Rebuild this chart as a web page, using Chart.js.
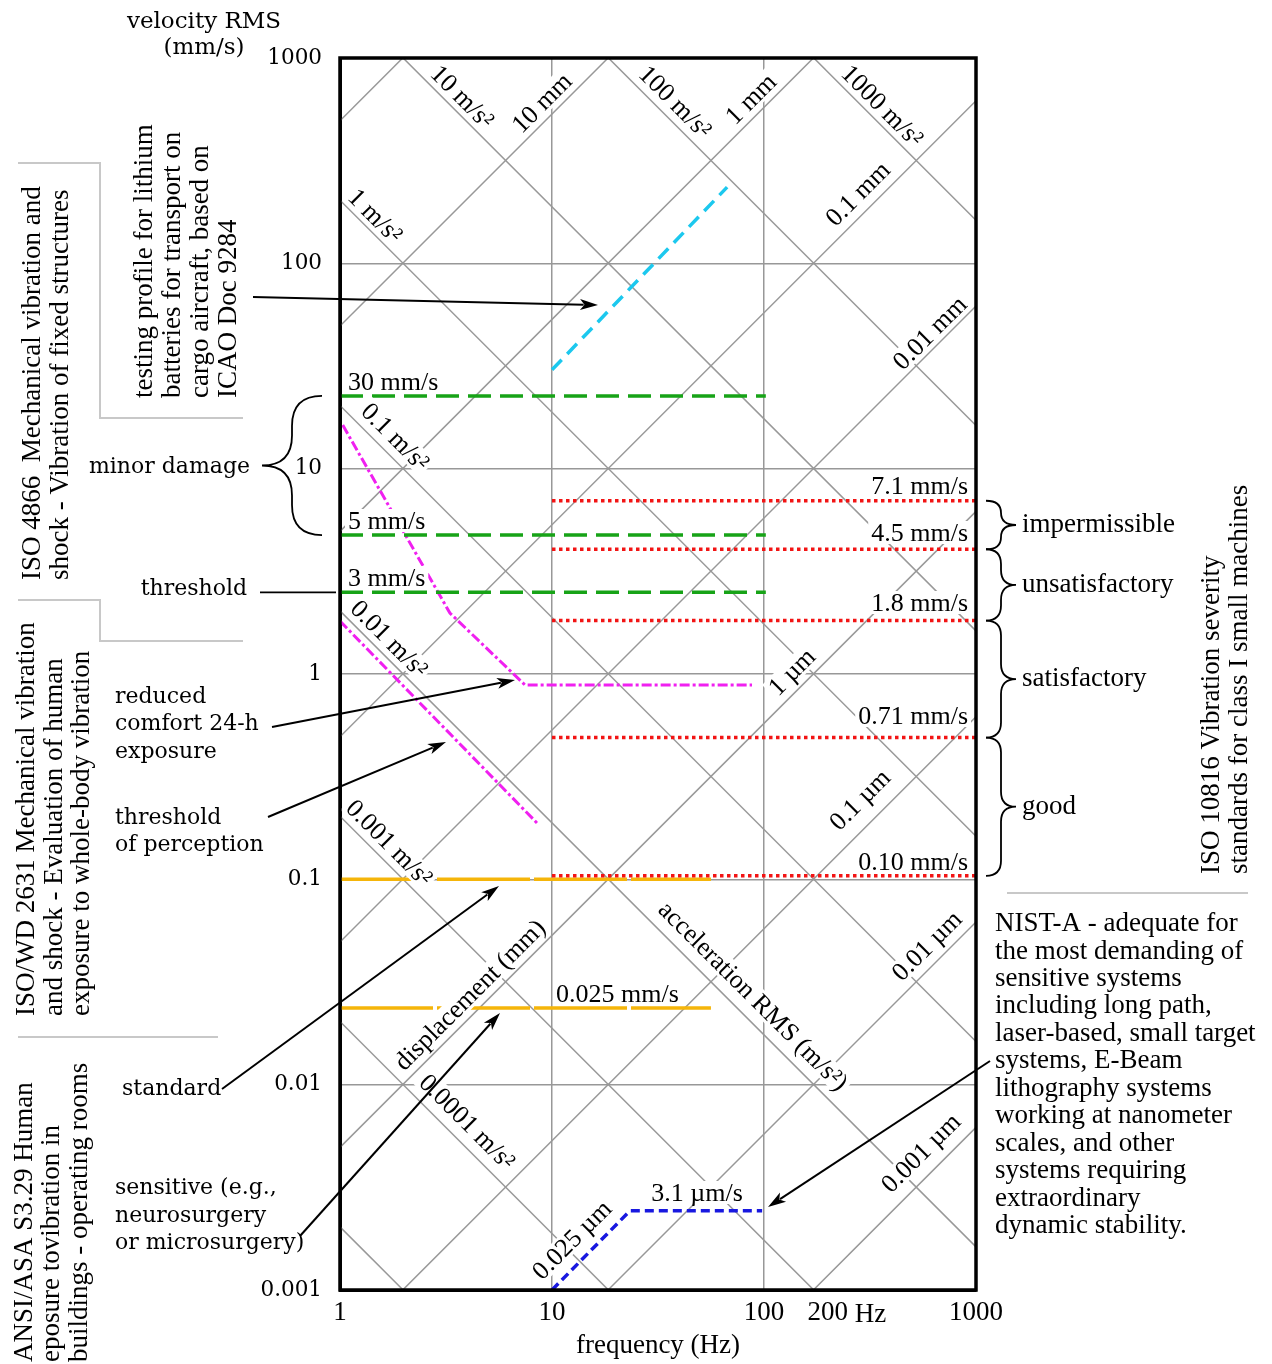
<!DOCTYPE html>
<html>
<head>
<meta charset="utf-8">
<title>Vibration criteria</title>
<script src="https://cdn.jsdelivr.net/npm/chart.js@4.4.1/dist/chart.umd.min.js"></script>
<style>
  body { margin: 0; background: #fff; }
  canvas { display: block; }
</style>
</head>
<body>
<canvas id="vibration-chart" width="1272" height="1364"></canvas>
<script>
const vibrationChart = document.getElementById("vibration-chart");

// axes
const freqTicks = [1, 10, 100, 200, 1000];
const velocityTicks = [0.001, 0.01, 0.1, 1, 10, 100, 1000];

// guide lines of the nomogram
const accelValues = [0.00001, 0.0001, 0.001, 0.01, 0.1, 1, 10, 100, 1000]; // m/s2
const dispValues = [100, 10, 1, 0.1, 0.01, 0.001, 0.0001, 0.00001, 0.000001]; // mm
// as drawn: velocity at 1 Hz of a unit line, and the slope of the lines
const accelAt1Hz = 203;
const dispAt1Hz = 4.95;
const guideSlope = 1.0325;

// ISO 4866 - fixed structures (30, 5, 3 mm/s)
const iso4866Levels = [22.6, 4.75, 2.5];
const iso4866Freq = [1, 102];

// ISO 10816 - class I machines (7.1, 4.5, 1.8, 0.71, 0.10 mm/s)
const iso10816Levels = [6.98, 4.05, 1.82, 0.49, 0.104];
const iso10816Freq = [10, 1000];

// ISO 2631 - whole body
const comfortFreq = [1.03, 3.3, 7.46, 87.8];
const comfortVel = [16.3, 1.98, 0.884, 0.884];
const perceptionFreq = [1, 8.5];
const perceptionVel = [1.81, 0.188];

// ANSI S3.29 - operating rooms
const ansiLevels = [0.1, 0.0236];
const ansiFreq = [1, 56.2];

// lithium batteries, ICAO Doc 9284
const lithiumFreq = [10, 67];
const lithiumVel = [30.3, 235];

// NIST-A
const nistFreq = [10, 23.3, 98];
const nistVel = [0.001, 0.00243, 0.00243];

const gridGray = "#989898";
const serif = "'Liberation Serif', 'Times New Roman', serif";
const wideSerif = "'DejaVu Serif', serif";

const pts = (xs, ys) => xs.map((x, i) => ({ x: x, y: ys[i] }));

function guide(v1) {
  return {
    label: "guide",
    data: [{ x: 1, y: v1 }, { x: 1000, y: v1 * Math.pow(1000, guideSlope) }],
    borderColor: gridGray,
    borderWidth: 1.5,
    pointRadius: 0,
    clip: 0,
    order: 6,
  };
}

function series(label, data, color, dash, width, order) {
  return {
    label: label,
    data: data,
    borderColor: color,
    borderDash: dash,
    borderWidth: width,
    pointRadius: 0,
    clip: 0,
    order: order,
  };
}

const datasets = [];
accelValues.forEach(a => {
  const g = guide(accelAt1Hz * a);
  g.data[1].y = accelAt1Hz * a * Math.pow(1000, -guideSlope);
  datasets.push(g);
});
dispValues.forEach(d => datasets.push(guide(dispAt1Hz * d)));

ansiLevels.forEach(v => {
  datasets.push(series("ANSI", pts(ansiFreq, [v, v]), "#f5b50a", [93, 4], 3.5, 5));
});
iso4866Levels.forEach(v => {
  datasets.push(series("ISO 4866", pts(iso4866Freq, [v, v]), "#17a317", [23, 9], 3.5, 4));
});
iso10816Levels.forEach(v => {
  datasets.push(series("ISO 10816", pts(iso10816Freq, [v, v]), "#f21414", [3.5, 3.5], 3.5, 4));
});
datasets.push(series("comfort", pts(comfortFreq, comfortVel), "#f020f0", [10, 3, 3, 3], 3, 4));
datasets.push(series("perception", pts(perceptionFreq, perceptionVel), "#f020f0", [10, 3, 3, 3], 3, 4));
datasets.push(series("lithium", pts(lithiumFreq, lithiumVel), "#1cc8ee", [14, 8], 3.5, 4));
datasets.push(series("NIST-A", pts(nistFreq, nistVel), "#1818e0", [9, 5], 3.5, 1));

// labels inside the plot [text, x, y, angle]
const diagLabels = [
  ["10 m/s²", 462, 97, 45],
  ["100 m/s²", 675, 102, 45],
  ["1000 m/s²", 882, 106, 45],
  ["1 m/s²", 375, 216, 45],
  ["0.1 m/s²", 395, 437, 45],
  ["0.01 m/s²", 389, 639, 45],
  ["0.001 m/s²", 389, 843, 45],
  ["0.0001 m/s²", 467, 1122, 45],
  ["acceleration RMS (m/s²)", 753, 996, 45],
  ["10 mm", 542, 103, -45],
  ["1 mm", 751, 99, -45],
  ["0.1 mm", 858, 194, -45],
  ["0.01 mm", 930, 333, -45],
  ["1 µm", 792, 672, -45],
  ["0.1 µm", 860, 800, -45],
  ["0.01 µm", 927, 946, -45],
  ["0.001 µm", 921, 1153, -45],
  ["displacement (mm)", 470, 995, -45],
  ["0.025 µm", 572, 1240, -45],
];
const flatLabels = [
  ["30 mm/s", 348, 382, "left"],
  ["5 mm/s", 348, 521, "left"],
  ["3 mm/s", 348, 578, "left"],
  ["7.1 mm/s", 968, 486, "right"],
  ["4.5 mm/s", 968, 533, "right"],
  ["1.8 mm/s", 968, 603, "right"],
  ["0.71 mm/s", 968, 716, "right"],
  ["0.10 mm/s", 968, 862, "right"],
  ["0.025 mm/s", 556, 994, "left"],
  ["3.1 µm/s", 697, 1193, "center"],
];

// text outside the plot
const sideBlocks = [
  { lines: ["ISO 4866  Mechanical vibration and", "shock - Vibration of fixed structures"], xs: [33, 61], y: 580 },
  { lines: ["testing profile for lithium", "batteries for transport on", "cargo aircraft, based on", "ICAO Doc 9284"], xs: [145, 173, 201, 229], y: 398 },
  { lines: ["ISO/WD 2631 Mechanical vibration", "and shock - Evaluation of human", "exposure to whole-body vibration"], xs: [27, 55, 82], y: 1016 },
  { lines: ["ANSI/ASA S3.29 Human", "eposure tovibration in", "buildings - operating rooms"], xs: [25, 52, 80], y: 1362 },
  { lines: ["ISO 10816 Vibration severity", "standards for class I small machines"], xs: [1212, 1240], y: 874 },
];
const notes = [
  ["minor damage", 250, 467, "right"],
  ["threshold", 247, 589, "right"],
  ["reduced", 115, 697, "left"],
  ["comfort 24-h", 115, 724, "left"],
  ["exposure", 115, 752, "left"],
  ["threshold", 115, 818, "left"],
  ["of perception", 115, 845, "left"],
  ["standard", 122, 1089, "left"],
  ["sensitive (e.g.,", 115, 1188, "left"],
  ["neurosurgery", 115, 1216, "left"],
  ["or microsurgery)", 115, 1243, "left"],
];
const severityNames = ["impermissible", "unsatisfactory", "satisfactory", "good"];
const nistText = [
  "NIST-A - adequate for", "the most demanding of", "sensitive systems",
  "including long path,", "laser-based, small target", "systems, E-Beam",
  "lithography systems", "working at nanometer", "scales, and other",
  "systems requiring", "extraordinary", "dynamic stability.",
];
// arrows: tail x, tail y, tip x, tip y
const arrows = [
  [253, 297, 598, 305],
  [272, 727, 515, 680],
  [268, 817, 446, 742],
  [222, 1089, 499, 886],
  [300, 1236, 500, 1013],
  [990, 1061, 768, 1207],
];

function drawInlineLabels(ctx) {
  ctx.save();
  ctx.font = "26px " + serif;
  ctx.textBaseline = "middle";
  diagLabels.forEach(([text, x, y, deg]) => {
    ctx.save();
    ctx.translate(x, y);
    ctx.rotate(deg * Math.PI / 180);
    const w = ctx.measureText(text).width;
    ctx.fillStyle = "#fff";
    ctx.fillRect(-w / 2 - 3, -12, w + 6, 23);
    ctx.fillStyle = "#000";
    ctx.textAlign = "center";
    ctx.fillText(text, 0, 1);
    ctx.restore();
  });
  flatLabels.forEach(([text, x, y, align]) => {
    const w = ctx.measureText(text).width;
    let x0 = x;
    if (align === "right") x0 = x - w;
    if (align === "center") x0 = x - w / 2;
    ctx.fillStyle = "#fff";
    ctx.fillRect(x0 - 3, y - 12, w + 6, 23);
    ctx.fillStyle = "#000";
    ctx.textAlign = align;
    ctx.fillText(text, x, y + 1);
  });
  ctx.restore();
}

function brace(ctx, xEnd, xTip, y1, y2) {
  const xs = (xEnd + xTip) / 2;
  const ym = (y1 + y2) / 2;
  const r = Math.min(Math.abs(xTip - xEnd) / 2, (y2 - y1) / 4);
  ctx.beginPath();
  ctx.moveTo(xEnd, y1);
  ctx.quadraticCurveTo(xs, y1, xs, y1 + r);
  ctx.lineTo(xs, ym - r);
  ctx.quadraticCurveTo(xs, ym, xTip, ym);
  ctx.quadraticCurveTo(xs, ym, xs, ym + r);
  ctx.lineTo(xs, y2 - r);
  ctx.quadraticCurveTo(xs, y2, xEnd, y2);
  ctx.stroke();
}

function arrow(ctx, x1, y1, x2, y2) {
  const ang = Math.atan2(y2 - y1, x2 - x1);
  const len = 18, half = 5.5;
  ctx.beginPath();
  ctx.moveTo(x1, y1);
  ctx.lineTo(x2 - Math.cos(ang) * len * 0.8, y2 - Math.sin(ang) * len * 0.8);
  ctx.stroke();
  ctx.beginPath();
  ctx.moveTo(x2, y2);
  ctx.lineTo(x2 - Math.cos(ang) * len + Math.sin(ang) * half, y2 - Math.sin(ang) * len - Math.cos(ang) * half);
  ctx.lineTo(x2 - Math.cos(ang) * len * 0.75, y2 - Math.sin(ang) * len * 0.75);
  ctx.lineTo(x2 - Math.cos(ang) * len - Math.sin(ang) * half, y2 - Math.sin(ang) * len + Math.cos(ang) * half);
  ctx.closePath();
  ctx.fill();
}

const overlay = {
  id: "overlay",
  beforeDatasetDraw(chart, args) {
    if (chart.data.datasets[args.index].label === "NIST-A") drawInlineLabels(chart.ctx);
  },
  afterDraw(chart) {
    const ctx = chart.ctx;
    const area = chart.chartArea;
    const xs = chart.scales.x;
    const ys = chart.scales.y;
    ctx.save();

    // frame
    ctx.strokeStyle = "#000";
    ctx.lineWidth = 3.5;
    ctx.strokeRect(area.left, area.top, area.right - area.left, area.bottom - area.top);

    // "Hz" after the 200 tick, and the axis titles
    ctx.fillStyle = "#000";
    ctx.font = "27px " + serif;
    ctx.textBaseline = "middle";
    ctx.textAlign = "left";
    ctx.fillText(" Hz", xs.getPixelForValue(200) + ctx.measureText("200").width / 2, 1315);
    ctx.textAlign = "center";
    ctx.fillText("frequency (Hz)", (area.left + area.right) / 2, 1346);
    ctx.font = "23px " + wideSerif;
    ctx.fillText("velocity RMS", 204, 22);
    ctx.fillText("(mm/s)", 204, 48);

    // gray separators
    ctx.strokeStyle = "#c8c8c8";
    ctx.lineWidth = 2;
    [[[18, 163], [100, 163], [100, 418], [243, 418]],
     [[18, 600], [100, 600], [100, 641], [243, 641]],
     [[18, 1037], [218, 1037]],
     [[1007, 893], [1248, 893]]].forEach(p => {
      ctx.beginPath();
      ctx.moveTo(p[0][0], p[0][1]);
      p.slice(1).forEach(q => ctx.lineTo(q[0], q[1]));
      ctx.stroke();
    });

    // rotated side texts
    ctx.font = "27px " + serif;
    ctx.textAlign = "left";
    sideBlocks.forEach(b => {
      b.lines.forEach((line, i) => {
        ctx.save();
        ctx.translate(b.xs[i], b.y);
        ctx.rotate(-Math.PI / 2);
        ctx.fillText(line, 0, 0);
        ctx.restore();
      });
    });

    // left notes
    ctx.font = "22px " + wideSerif;
    notes.forEach(([text, x, y, align]) => {
      ctx.textAlign = align;
      ctx.fillText(text, x, y);
    });

    // braces and pointer lines
    ctx.strokeStyle = "#000";
    ctx.lineWidth = 1.8;
    brace(ctx, 322, 262, ys.getPixelForValue(iso4866Levels[0]), ys.getPixelForValue(iso4866Levels[1]));
    const yThr = ys.getPixelForValue(iso4866Levels[2]);
    ctx.beginPath();
    ctx.moveTo(260, yThr);
    ctx.lineTo(area.left - 4, yThr);
    ctx.stroke();

    ctx.font = "27px " + serif;
    ctx.textAlign = "left";
    for (let i = 0; i < severityNames.length; i++) {
      const y1 = ys.getPixelForValue(iso10816Levels[i]);
      const y2 = ys.getPixelForValue(iso10816Levels[i + 1]);
      brace(ctx, 986, 1016, y1, y2);
      ctx.fillText(severityNames[i], 1022, (y1 + y2) / 2);
    }

    // NIST-A text
    nistText.forEach((line, i) => ctx.fillText(line, 995, 924 + i * 27.45));

    // arrows
    ctx.fillStyle = "#000";
    ctx.lineWidth = 2;
    arrows.forEach(a => arrow(ctx, a[0], a[1], a[2], a[3]));

    ctx.restore();
  },
};

new Chart(vibrationChart, {
  type: "line",
  data: { datasets: datasets },
  options: {
    responsive: false,
    devicePixelRatio: 1,
    animation: false,
    layout: { padding: { left: 0, right: 296, top: 58, bottom: 0 } },
    plugins: { legend: { display: false }, tooltip: { enabled: false } },
    scales: {
      x: {
        type: "logarithmic",
        min: 1,
        max: 1000,
        afterBuildTicks: s => { s.ticks = freqTicks.map(v => ({ value: v })); },
        afterFit: s => { s.height = 74; },
        ticks: {
          autoSkip: false,
          maxRotation: 0,
          padding: 7,
          color: "#000",
          font: { family: serif, size: 27 },
          callback: v => String(v),
        },
        grid: {
          drawTicks: false,
          lineWidth: 1.5,
          color: c => (c.tick && (c.tick.value === 10 || c.tick.value === 100)) ? gridGray : "rgba(0,0,0,0)",
        },
        border: { display: true, color: "#000", width: 3 },
      },
      y: {
        type: "logarithmic",
        min: 0.001,
        max: 1000,
        afterBuildTicks: s => { s.ticks = velocityTicks.map(v => ({ value: v })); },
        afterFit: s => { s.width = 340; },
        ticks: {
          autoSkip: false,
          padding: 18,
          color: "#000",
          font: { family: wideSerif, size: 21.5 },
          callback: v => String(v),
        },
        grid: { drawTicks: false, lineWidth: 1.5, color: gridGray },
        border: { display: true, color: "#000", width: 3 },
      },
    },
  },
  plugins: [overlay],
});
</script>
</body>
</html>
